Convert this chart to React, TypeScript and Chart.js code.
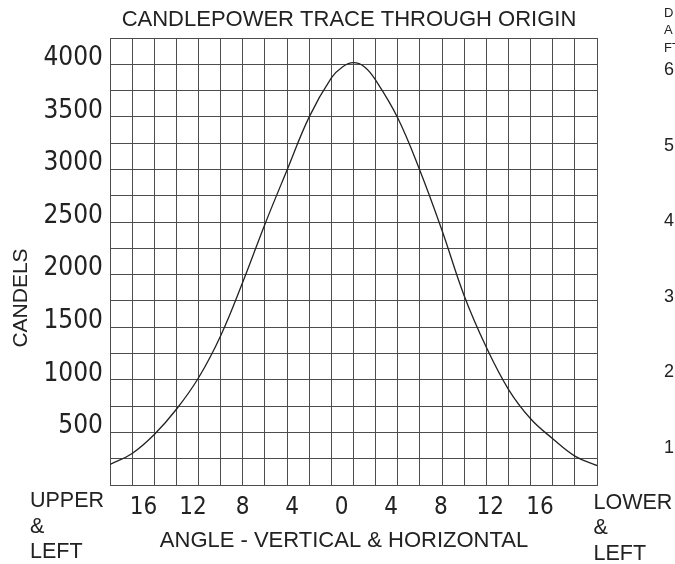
import React, { useEffect, useRef } from "react";
import { Chart, registerables } from "chart.js";

Chart.register(...registerables);

// ---- data ----
const angles = [-22, -20, -18, -16, -14, -12, -10, -8, -6, -4, -2, -1, 0, 1, 2, 4, 6, 8, 10, 12, 14, 16, 18, 20, 22];
const candels = [195, 300, 480, 720, 1020, 1420, 1930, 2480, 2995, 3500, 3870, 3975, 4015, 3975, 3850, 3490, 2990, 2420, 1800, 1310, 910, 630, 440, 275, 185];

const xTickValues = [-16, -12, -8, -4, 0, 4, 8, 12, 16];
const yLabelValues = [500, 1000, 1500, 2000, 2500, 3000, 3500, 4000];

const chartTitle = "CANDLEPOWER TRACE THROUGH ORIGIN";
const yTitle = "CANDELS";
const xTitle = "ANGLE - VERTICAL & HORIZONTAL";
const leftNote = ["UPPER", "&", "LEFT"];
const rightNote = ["LOWER", "&", "LEFT"];
const sideLetters = ["D", "A", "FT"];
const sideDigits = ["6", "5", "4", "3", "2", "1"];

// grid axis range (degrees) and candela range
const GRID_MIN = -22;
const GRID_MAX = 22;
const Y_MIN = 0;
const Y_MAX = 4250;
// label axis range (labels are spaced a little wider than the grid)
const LABEL_MIN = -18.7;
const LABEL_MAX = 20.61;

const INK = "#222";
const GRID = "#4d4d4d";
const SANS = '"Liberation Sans", Arial, sans-serif';
const COND = '"DejaVu Sans Condensed", "DejaVu Sans", sans-serif';

const textPlugin = {
  id: "freeText",
  afterDraw(chart: any) {
    const ctx = chart.ctx as CanvasRenderingContext2D;
    ctx.save();
    ctx.fillStyle = INK;
    ctx.textBaseline = "alphabetic";

    // title
    ctx.font = `22px ${SANS}`;
    ctx.textAlign = "center";
    ctx.fillText(chartTitle, 349, 26);

    // x title
    ctx.font = `22px ${SANS}`;
    ctx.fillText(xTitle, 344, 547);

    // left / right notes
    ctx.font = `21.5px ${SANS}`;
    ctx.textAlign = "left";
    leftNote.forEach((t, i) => ctx.fillText(t, 30, 507 + i * 25.7));
    rightNote.forEach((t, i) => ctx.fillText(t, 593.5, 508.5 + i * 25.7));

    // y title rotated
    ctx.save();
    ctx.translate(26.5, 298);
    ctx.rotate(-Math.PI / 2);
    ctx.font = `21px ${SANS}`;
    ctx.textAlign = "center";
    ctx.fillText(yTitle, 0, 0);
    ctx.restore();

    // cut-off side column
    ctx.font = `13px ${SANS}`;
    ctx.textAlign = "left";
    sideLetters.forEach((t, i) => ctx.fillText(t, 664, 16.7 + i * 17.5));
    ctx.font = `18px ${SANS}`;
    sideDigits.forEach((t, i) => ctx.fillText(t, 664, 75 + i * 75.5));

    ctx.restore();
  },
};

export default function App() {
  const canvasRef = useRef<HTMLCanvasElement | null>(null);

  useEffect(() => {
    if (!canvasRef.current) return;
    const chart = new Chart(canvasRef.current, {
      type: "line",
      data: {
        datasets: [
          {
            data: angles.map((a, i) => ({ x: a, y: candels[i] })),
            borderColor: INK,
            borderWidth: 1.3,
            pointRadius: 0,
            fill: false,
            tension: 0.4,
            xAxisID: "x",
            yAxisID: "y",
          },
        ],
      },
      options: {
        animation: false,
        responsive: true,
        maintainAspectRatio: false,
        layout: { padding: { left: 0, right: 78, top: 38, bottom: 0 } },
        plugins: {
          legend: { display: false },
          title: { display: false },
          tooltip: { enabled: false },
        },
        scales: {
          x: {
            type: "linear",
            position: "bottom",
            min: GRID_MIN,
            max: GRID_MAX,
            ticks: { display: false, stepSize: 2 },
            grid: { color: GRID, lineWidth: 1, drawTicks: false },
            border: { display: true, color: GRID, width: 1 },
            afterFit: (s: any) => {
              s.height = 0;
            },
          },
          xl: {
            type: "linear",
            position: "bottom",
            min: LABEL_MIN,
            max: LABEL_MAX,
            grid: { display: false, drawTicks: false },
            border: { display: false },
            afterBuildTicks: (s: any) => {
              s.ticks = xTickValues.map((v) => ({ value: v }));
            },
            ticks: {
              autoSkip: false,
              maxRotation: 0,
              padding: 8,
              color: INK,
              font: { family: COND, size: 24 },
              callback: (v: any) => String(Math.abs(Number(v))),
            },
            afterFit: (s: any) => {
              s.height = 79;
            },
          },
          y: {
            type: "linear",
            min: Y_MIN,
            max: Y_MAX,
            afterBuildTicks: (s: any) => {
              const t = [];
              for (let v = Y_MIN; v <= Y_MAX; v += 250) t.push({ value: v });
              s.ticks = t;
            },
            ticks: {
              autoSkip: false,
              padding: 7,
              labelOffset: -6,
              color: INK,
              font: { family: COND, size: 26 },
              callback: (v: any) => (yLabelValues.includes(Number(v)) ? String(v) : ""),
            },
            grid: { color: GRID, lineWidth: 1, drawTicks: false },
            border: { display: true, color: GRID, width: 1 },
            afterFit: (s: any) => {
              s.width = 110;
            },
          },
        },
      },
      plugins: [textPlugin],
    } as any);
    return () => chart.destroy();
  }, []);

  return (
    <div style={{ position: "absolute", left: 0, top: 0, width: 675, height: 564, background: "#fff" }}>
      <canvas ref={canvasRef} />
    </div>
  );
}
